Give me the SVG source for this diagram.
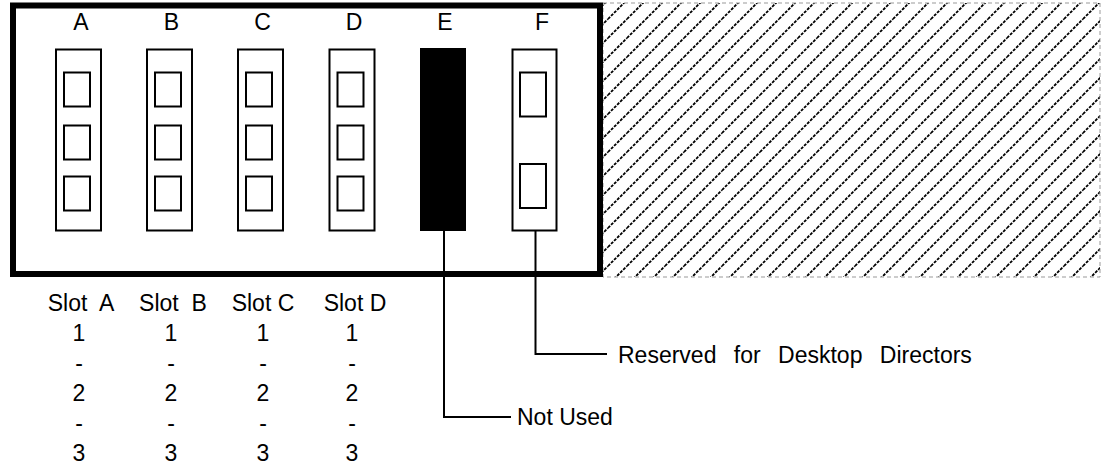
<svg xmlns="http://www.w3.org/2000/svg" width="1103" height="465" viewBox="0 0 1103 465">
  <style>
    .t { font-family: "Liberation Sans", Arial, sans-serif; fill: #000; }
    .lbl { font-size: 23px; text-anchor: middle; }
    .tbl { font-size: 23px; text-anchor: middle; }
    .note { font-size: 23px; }
    .slot { fill: #fff; stroke: #000; stroke-width: 2; }
    .port { fill: #fff; stroke: #000; stroke-width: 2; }
    .conn { fill: none; stroke: #000; stroke-width: 2; }
  </style>
  <defs>
    <pattern id="hatch" patternUnits="userSpaceOnUse" width="19" height="19">
      <path d="M-5,5 L5,-5 M0,19 L19,0 M14,24 L24,14" stroke="#000" stroke-width="1.8" stroke-dasharray="3 1.3"/>
    </pattern>
  </defs>
  <rect width="1103" height="465" fill="#fff"/>

  <g id="hatched-area">
    <rect x="603" y="3" width="497" height="274" fill="url(#hatch)"/>
    <rect x="603" y="3" width="497" height="274" fill="none" stroke="#999" stroke-width="1" stroke-dasharray="4 3"/>
  </g>

  <g id="chassis">
    <rect x="13" y="5.5" width="587" height="268.5" fill="none" stroke="#000" stroke-width="6"/>
  </g>

  <g id="slot-A">
    <text class="t lbl" x="81" y="30">A</text>
    <rect class="slot" x="56" y="49.5" width="45" height="181"/>
    <rect class="port" x="64" y="72.5" width="26" height="34"/>
    <rect class="port" x="64" y="125.5" width="26" height="34"/>
    <rect class="port" x="64" y="176.5" width="26" height="34"/>
  </g>
  <g id="slot-B">
    <text class="t lbl" x="171.5" y="30">B</text>
    <rect class="slot" x="147" y="49.5" width="45" height="181"/>
    <rect class="port" x="155" y="72.5" width="26" height="34"/>
    <rect class="port" x="155" y="125.5" width="26" height="34"/>
    <rect class="port" x="155" y="176.5" width="26" height="34"/>
  </g>
  <g id="slot-C">
    <text class="t lbl" x="262.5" y="30">C</text>
    <rect class="slot" x="238" y="49.5" width="45" height="181"/>
    <rect class="port" x="246" y="72.5" width="26" height="34"/>
    <rect class="port" x="246" y="125.5" width="26" height="34"/>
    <rect class="port" x="246" y="176.5" width="26" height="34"/>
  </g>
  <g id="slot-D">
    <text class="t lbl" x="354" y="30">D</text>
    <rect class="slot" x="329.5" y="49.5" width="45" height="181"/>
    <rect class="port" x="337.5" y="72.5" width="26" height="34"/>
    <rect class="port" x="337.5" y="125.5" width="26" height="34"/>
    <rect class="port" x="337.5" y="176.5" width="26" height="34"/>
  </g>
  <g id="slot-E">
    <text class="t lbl" x="445" y="30">E</text>
    <rect x="420" y="48" width="46" height="183" fill="#000"/>
  </g>
  <g id="slot-F">
    <text class="t lbl" x="542" y="30">F</text>
    <rect class="slot" x="512.5" y="49.5" width="44" height="181"/>
    <rect class="port" x="520" y="72.5" width="26" height="44"/>
    <rect class="port" x="520" y="164" width="26" height="44"/>
  </g>

  <g id="connectors">
    <polyline class="conn" points="444,231 444,417 511,417"/>
    <polyline class="conn" points="535.5,231 535.5,354 607,354"/>
  </g>

  <g id="label-not-used">
    <text class="t note" x="517" y="425">Not Used</text>
  </g>
  <g id="label-reserved">
    <text class="t note" x="618" y="363" word-spacing="11">Reserved for Desktop Directors</text>
  </g>

  <g id="slot-table">
    <text class="t tbl" x="81" y="311" xml:space="preserve">Slot  A</text>
    <text class="t tbl" x="173" y="311" xml:space="preserve">Slot  B</text>
    <text class="t tbl" x="263" y="311">Slot C</text>
    <text class="t tbl" x="355" y="311">Slot D</text>
    <g>
      <text class="t tbl" x="79" y="341">1</text>
      <text class="t tbl" x="171" y="341">1</text>
      <text class="t tbl" x="263" y="341">1</text>
      <text class="t tbl" x="352" y="341">1</text>
      <text class="t tbl" x="79" y="371">-</text>
      <text class="t tbl" x="171" y="371">-</text>
      <text class="t tbl" x="263" y="371">-</text>
      <text class="t tbl" x="352" y="371">-</text>
      <text class="t tbl" x="79" y="401">2</text>
      <text class="t tbl" x="171" y="401">2</text>
      <text class="t tbl" x="263" y="401">2</text>
      <text class="t tbl" x="352" y="401">2</text>
      <text class="t tbl" x="79" y="431">-</text>
      <text class="t tbl" x="171" y="431">-</text>
      <text class="t tbl" x="263" y="431">-</text>
      <text class="t tbl" x="352" y="431">-</text>
      <text class="t tbl" x="79" y="461">3</text>
      <text class="t tbl" x="171" y="461">3</text>
      <text class="t tbl" x="263" y="461">3</text>
      <text class="t tbl" x="352" y="461">3</text>
    </g>
  </g>
</svg>
